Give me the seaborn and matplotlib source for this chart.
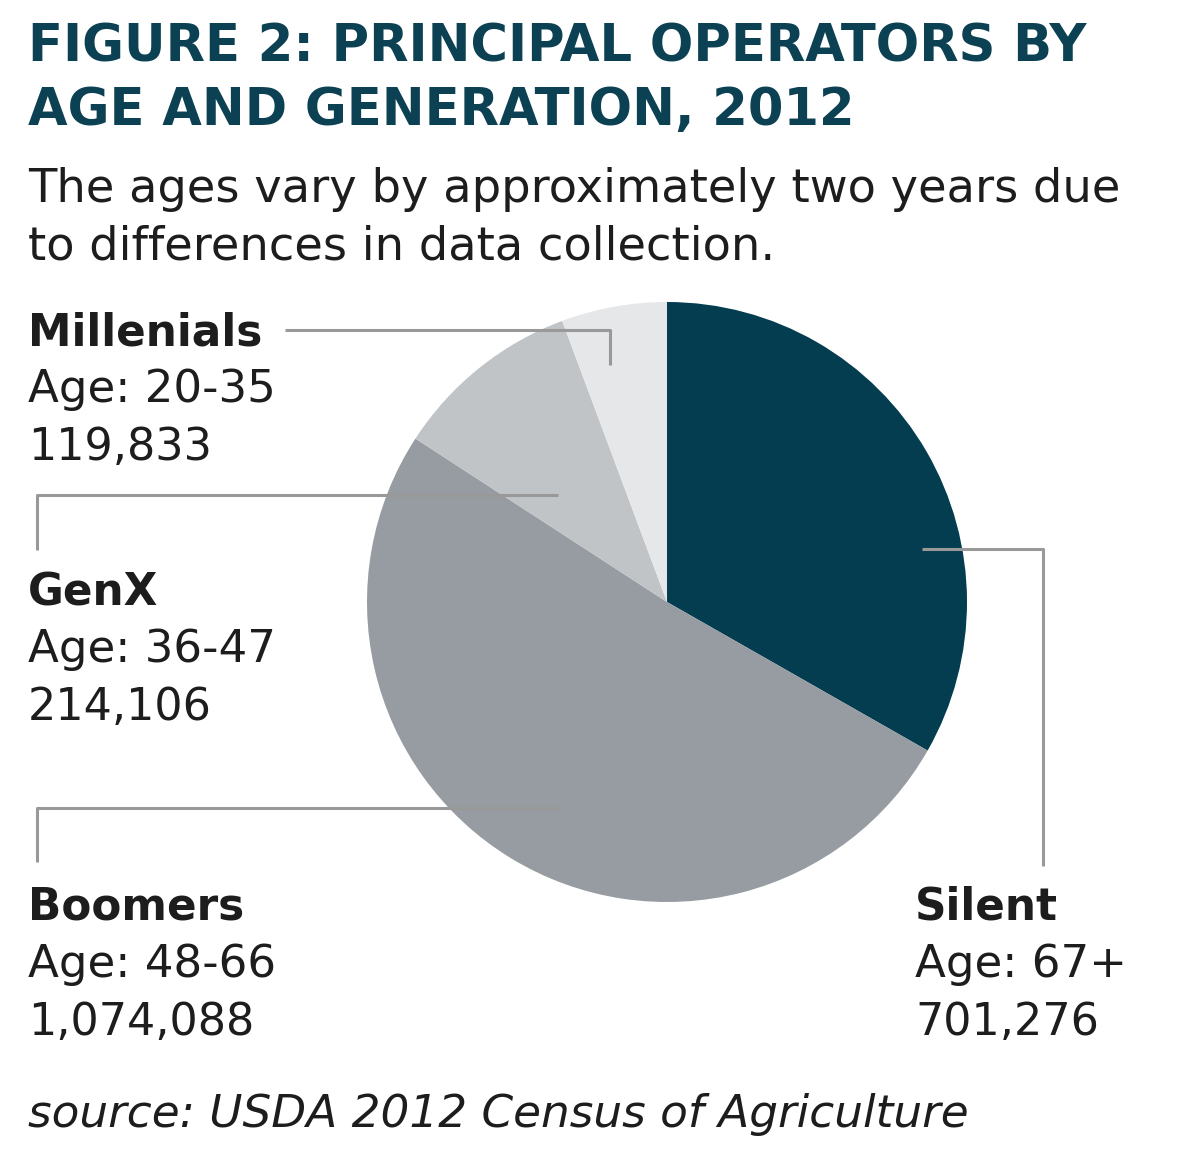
import matplotlib
matplotlib.use("Agg")
import matplotlib.pyplot as plt
import seaborn as sns

# ===== DATA =====
generations = ["Silent", "Boomers", "GenX", "Millenials"]
age_ranges = ["Age: 67+", "Age: 48-66", "Age: 36-47", "Age: 20-35"]
operators = [701276, 1074088, 214106, 119833]
slice_colors = ["#033d4f", "#969ca1", "#c1c4c7", "#e6e7e9"]

TITLE = "FIGURE 2: PRINCIPAL OPERATORS BY\nAGE AND GENERATION, 2012"
SUBTITLE = "The ages vary by approximately two years due\nto differences in data collection."
SOURCE = "source: USDA 2012 Census of Agriculture"

W, H = 1179, 1156
sns.set_theme(style="white")
plt.rcParams["font.family"] = ["DejaVu Sans"]

fig = plt.figure(figsize=(W / 100, H / 100), dpi=100)
ax = fig.add_axes([0, 0, 1, 1])

# pixel coords, y measured from the top of the image
def py(y):
    return H - y

ax.pie(operators, colors=slice_colors, startangle=90, counterclock=False,
       center=(667, py(602)), radius=300,
       wedgeprops=dict(linewidth=0))
ax.set_xlim(0, W)
ax.set_ylim(0, H)
ax.set_aspect("equal")
ax.axis("off")

# ========================
# TITLE + SUBTITLE
# ========================
title_color = "#0b4153"
for i, line in enumerate(TITLE.split("\n")):
    ax.text(28, py(62 + i * 63), line, fontsize=36.8, fontweight="bold",
            color=title_color, va="baseline", ha="left")
for i, line in enumerate(SUBTITLE.split("\n")):
    ax.text(28, py(202 + i * 57), line, fontsize=33.4, color="#1d1d1d",
            va="baseline", ha="left")

# ========================
# LABELS
# ========================
label_pos = {
    "Millenials": (28, 345),
    "GenX": (28, 605),
    "Boomers": (28, 920),
    "Silent": (915, 920),
}
for gen, age, n in zip(generations, age_ranges, operators):
    x, y = label_pos[gen]
    ax.text(x, py(y), gen, fontsize=31.5, fontweight="bold", color="#1d1d1d",
            va="baseline", ha="left")
    ax.text(x, py(y + 57), age, fontsize=32.5, color="#1d1d1d",
            va="baseline", ha="left")
    ax.text(x, py(y + 115), f"{n:,}", fontsize=32, color="#1d1d1d",
            va="baseline", ha="left")

# leader lines
line_kw = dict(color="#999999", linewidth=2.2, solid_capstyle="butt")
leaders = {
    "Millenials": ([285, 610, 610], [330, 330, 365]),
    "GenX": ([558, 37, 37], [495, 495, 550]),
    "Boomers": ([558, 37, 37], [808, 808, 862]),
    "Silent": ([922, 1043, 1043], [549, 549, 866]),
}
for gen in generations:
    xs, ys = leaders[gen]
    ax.plot(xs, [py(v) for v in ys], **line_kw)

ax.text(28, py(1127), SOURCE, fontsize=32.7, fontstyle="italic",
        color="#1d1d1d", va="baseline", ha="left")

fig.savefig("out.png", dpi=100, facecolor="white")
